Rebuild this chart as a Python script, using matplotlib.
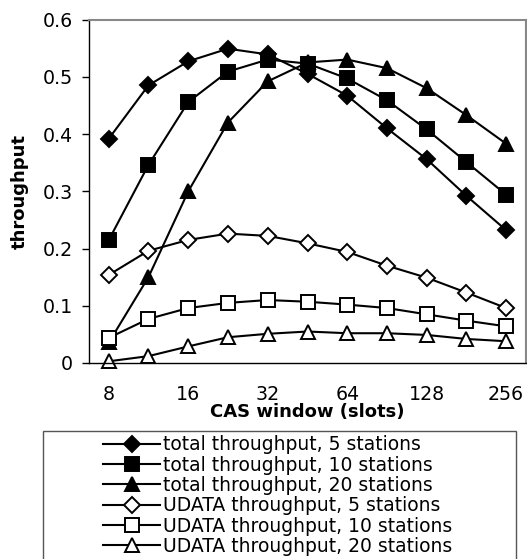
import numpy as np
import matplotlib
matplotlib.use("Agg")
import matplotlib.pyplot as plt
from matplotlib.patches import Rectangle

# CAS window sizes (half-octave steps from 8 to 256)
cas_window = [8, 11.3, 16, 22.6, 32, 45.3, 64, 90.5, 128, 181, 256]
xtick_vals = [8, 16, 32, 64, 128, 256]
xtick_labels = ["8", "16", "32", "64", "128", "256"]

total_5 = [0.392, 0.485, 0.527, 0.549, 0.539, 0.505, 0.467, 0.410, 0.356, 0.292, 0.232]
total_10 = [0.215, 0.346, 0.456, 0.509, 0.530, 0.523, 0.497, 0.459, 0.408, 0.351, 0.294]
total_20 = [0.036, 0.150, 0.300, 0.420, 0.492, 0.525, 0.530, 0.515, 0.480, 0.433, 0.383]
udata_5 = [0.154, 0.196, 0.215, 0.226, 0.222, 0.209, 0.194, 0.170, 0.149, 0.123, 0.096]
udata_10 = [0.044, 0.077, 0.096, 0.105, 0.110, 0.107, 0.102, 0.096, 0.085, 0.074, 0.064]
udata_20 = [0.003, 0.012, 0.029, 0.045, 0.051, 0.055, 0.052, 0.052, 0.049, 0.042, 0.038]

labels = [
    "total throughput, 5 stations",
    "total throughput, 10 stations",
    "total throughput, 20 stations",
    "UDATA throughput, 5 stations",
    "UDATA throughput, 10 stations",
    "UDATA throughput, 20 stations",
]

W, H = 527, 559
fig = plt.figure(figsize=(W / 100, H / 100), dpi=100)
ax = fig.add_axes([89 / W, 1 - 363 / H, 437 / W, 343.5 / H])

series = [total_5, total_10, total_20, udata_5, udata_10, udata_20]
markers = ["D", "s", "^", "D", "s", "^"]
msizes = [7.8, 9.5, 10.5, 7.8, 9.5, 10.5]
fills = ["black", "black", "black", "white", "white", "white"]

for ys, m, ms, fc, lab in zip(series, markers, msizes, fills, labels):
    ax.plot(cas_window, ys, color="black", lw=1.5, marker=m, ms=ms,
            mfc=fc, mec="black", mew=1.4, label=lab, clip_on=False)

ax.set_xscale("log", base=2)
ax.set_xlim(8 * 2 ** -0.25, 256 * 2 ** 0.25)
ax.set_ylim(0, 0.6)
ax.set_xticks(xtick_vals)
ax.set_xticklabels(xtick_labels)
ax.xaxis.set_minor_locator(matplotlib.ticker.NullLocator())
ax.set_yticks([0, 0.1, 0.2, 0.3, 0.4, 0.5, 0.6])
ax.set_yticklabels(["0", "0.1", "0.2", "0.3", "0.4", "0.5", "0.6"])

ax.tick_params(axis="x", length=0, pad=15.5, labelsize=13.7)
ax.tick_params(axis="y", length=5, width=1, pad=6.5, labelsize=13.7, direction="out")

for side in ["top", "right"]:
    ax.spines[side].set_color("#888888")
    ax.spines[side].set_linewidth(1.5)
ax.spines["left"].set_color("black")
ax.spines["bottom"].set_color("black")
ax.spines["left"].set_linewidth(1.0)
ax.spines["bottom"].set_linewidth(1.0)

ax.set_xlabel("CAS window (slots)", fontsize=13, fontweight="bold")
ax.xaxis.set_label_coords(0.5, -0.116)
ax.set_ylabel("throughput", fontsize=13, fontweight="bold")
ax.yaxis.set_label_coords(-0.137, 0.5)

# legend box (runs past the bottom of the figure)
fig.patches.append(Rectangle((43 / W, -0.05), (516 - 43) / W, 1 - 431 / H + 0.05,
                             transform=fig.transFigure, fill=False,
                             edgecolor="#555555", lw=1.0))
fig.legend(loc="upper center", bbox_to_anchor=(278 / W, 1 - 426 / H),
           frameon=False, fontsize=13.5, labelspacing=0.07, borderpad=0,
           handlelength=3.0, handletextpad=0.2)

fig.savefig("out.png", dpi=100)
